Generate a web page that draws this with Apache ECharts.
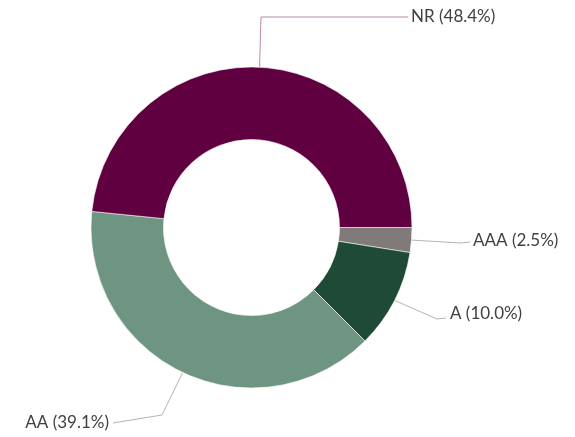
<!DOCTYPE html>
<html>
<head>
<meta charset="utf-8">
<script src="https://cdn.jsdelivr.net/npm/echarts@6/dist/echarts.min.js"></script>
<style>html,body{margin:0;padding:0;background:#fff;}#c{width:575px;height:437px;}</style>
</head>
<body>
<div id="c"></div>
<script>
// Data
const categories = ['AAA', 'A', 'AA', 'NR'];
const shares = [2.5, 10.0, 39.1, 48.4];

// Styling / layout (separate from data)
const sliceColors = { AAA: '#807b79', A: '#1f4a36', AA: '#6e9582', NR: '#600040' };
const lineColors = { AAA: '#b5b5b5', A: '#b5b5b5', AA: '#b5b5b5', NR: '#b988aa' };
// elbow point, line end point, label x, label y, align
const labelGeom = {
  NR:  { elbow: [261, 17],  end: [408, 17],  x: 411, y: 17,  align: 'left' },
  AAA: { elbow: [461, 243], end: [470, 242], x: 473, y: 241, align: 'left' },
  A:   { elbow: [437, 319], end: [446, 318], x: 450, y: 314, align: 'left' },
  AA:  { elbow: [162, 415], end: [113, 423], x: 109, y: 423, align: 'right' }
};

const chart = echarts.init(document.getElementById('c'), null, { renderer: 'canvas' });

const data = categories.map((c, i) => ({
  name: c,
  value: shares[i],
  itemStyle: { color: sliceColors[c] },
  labelLine: { lineStyle: { color: lineColors[c] } }
}));

chart.setOption({
  backgroundColor: '#ffffff',
  animation: false,
  series: [{
    type: 'pie',
    center: [251.5, 227.5],
    radius: [88, 160.5],
    startAngle: 0,
    clockwise: true,
    avoidLabelOverlap: false,
    itemStyle: { borderColor: '#ffffff', borderWidth: 0.6 },
    label: {
      show: true,
      position: 'outside',
      formatter: p => p.name + ' (' + p.value.toFixed(1) + '%)',
      fontFamily: 'Lato',
      fontSize: 17,
      color: '#404040'
    },
    labelLine: { show: true, length: 40, length2: 10, lineStyle: { width: 1 } },
    labelLayout: function (params) {
      const g = labelGeom[categories[params.dataIndex]];
      const p0 = params.labelLinePoints ? params.labelLinePoints[0] : g.elbow;
      return {
        x: g.x,
        y: g.y,
        align: g.align,
        verticalAlign: 'middle',
        labelLinePoints: [p0, g.elbow, g.end]
      };
    },
    data: data
  }]
});
</script>
</body>
</html>
